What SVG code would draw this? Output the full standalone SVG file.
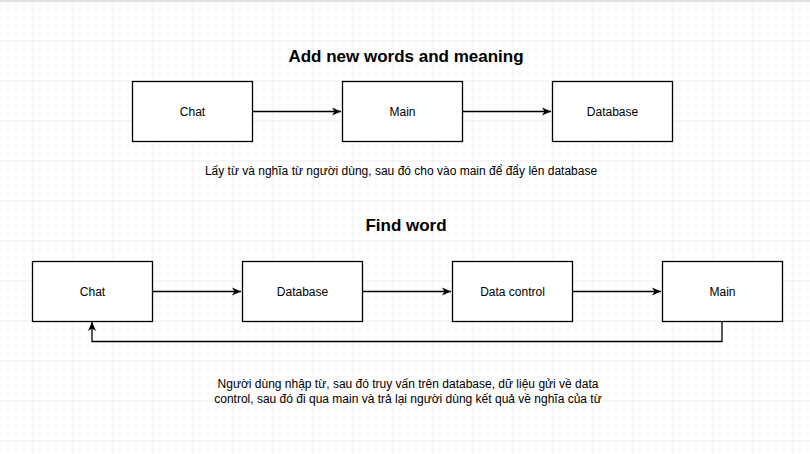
<svg xmlns="http://www.w3.org/2000/svg" width="810" height="454" viewBox="0 0 810 454">
<defs>
<pattern id="minor" width="8" height="8" patternUnits="userSpaceOnUse" x="0.5" y="1.5">
<path d="M8 0V8M0 8H8" fill="none" stroke="#f3f3f3" stroke-width="1"/>
</pattern>
<pattern id="major" width="40" height="40" patternUnits="userSpaceOnUse" x="32.5" y="0.5">
<path d="M0 0V40M0 0H40" fill="none" stroke="#e6e6e6" stroke-width="1"/>
</pattern>
<marker id="arr" markerWidth="10" markerHeight="10" refX="9" refY="5" orient="auto" markerUnits="userSpaceOnUse">
<path d="M0 1L9 5L0 9L2.5 5Z" fill="#000"/>
</marker>
</defs>
<style>
.box{fill:#fff;stroke:#000;stroke-width:1.3}
.lbl{font-family:"Liberation Sans",Arial,sans-serif;font-size:12px;fill:#000;text-anchor:middle}
.title{font-family:"Liberation Sans",Arial,sans-serif;font-size:17px;font-weight:bold;fill:#000;text-anchor:middle}
.edge{fill:none;stroke:#000;stroke-width:1.3;marker-end:url(#arr)}
</style>
<rect width="810" height="454" fill="#fff"/>
<rect width="810" height="454" fill="url(#minor)"/>
<rect width="810" height="454" fill="url(#major)"/>
<rect x="0" y="0" width="810" height="2" fill="#e0e0e0"/>
<text class="title" x="406" y="62">Add new words and meaning</text>
<text class="title" x="406" y="231">Find word</text>
<g id="edges">
<path class="edge" d="M252.5 111.5H341"/>
<path class="edge" d="M462.5 111.5H551"/>
<path class="edge" d="M152.5 291.5H241"/>
<path class="edge" d="M362.5 291.5H451"/>
<path class="edge" d="M572.5 291.5H661"/>
<path class="edge" d="M722 321.5V341.5H92V322"/>
</g>
<g id="chat1"><rect class="box" x="132.5" y="81.5" width="120" height="60"/><text class="lbl" x="192.5" y="115.5">Chat</text></g>
<g id="main1"><rect class="box" x="342.5" y="81.5" width="120" height="60"/><text class="lbl" x="402.5" y="115.5">Main</text></g>
<g id="db1"><rect class="box" x="552.5" y="81.5" width="120" height="60"/><text class="lbl" x="612.5" y="115.5">Database</text></g>
<g id="desc1"><text class="lbl" x="401" y="175">Lấy từ và nghĩa từ người dùng, sau đó cho vào main để đẩy lên database</text></g>
<g id="chat2"><rect class="box" x="32.5" y="261.5" width="120" height="60"/><text class="lbl" x="92.5" y="295.5">Chat</text></g>
<g id="db2"><rect class="box" x="242.5" y="261.5" width="120" height="60"/><text class="lbl" x="302.5" y="295.5">Database</text></g>
<g id="dc2"><rect class="box" x="452.5" y="261.5" width="120" height="60"/><text class="lbl" x="512.5" y="295.5">Data control</text></g>
<g id="main2"><rect class="box" x="662.5" y="261.5" width="120" height="60"/><text class="lbl" x="722.5" y="295.5">Main</text></g>
<g id="desc2"><text class="lbl" x="408" y="388">Người dùng nhập từ, sau đó truy vấn trên database, dữ liệu gửi về data</text><text class="lbl" x="408" y="403">control, sau đó đi qua main và trả lại người dùng kết quả về nghĩa của từ</text></g>
</svg>
